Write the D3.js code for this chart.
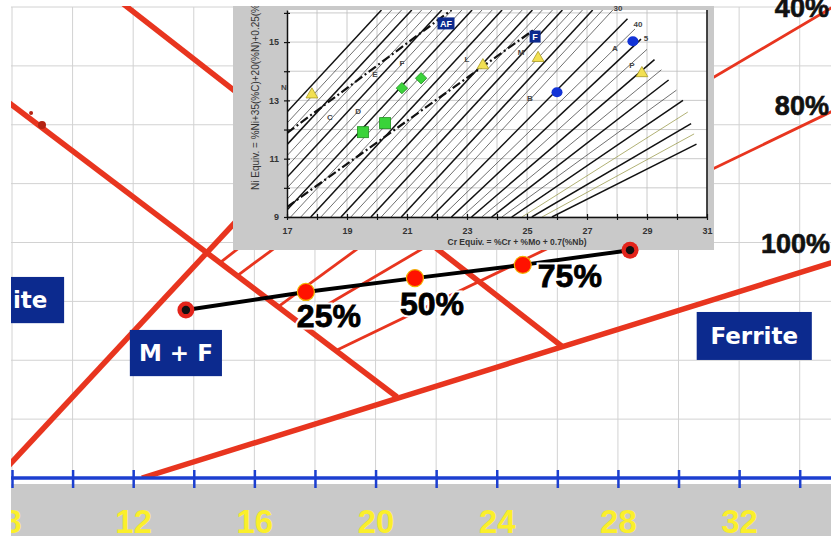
<!DOCTYPE html>
<html>
<head>
<meta charset="utf-8">
<script src="https://cdn.jsdelivr.net/npm/d3@7"></script>
<style>
  body { margin: 0; background: #fff; }
  svg { display: block; }
</style>
</head>
<body>
<svg id="chart" width="831" height="536"></svg>
<script>
// ---------- main diagram values (Cr equivalent / Ni equivalent) ----------
const crTicks = [8, 10, 12, 14, 16, 18, 20, 22, 24, 26, 28, 30, 32, 34];
const crLabels = [8, 12, 16, 20, 24, 28, 32];
const niGrid = [0, 2, 4, 6, 8, 10, 12, 14, 16];

// heavy boundary lines
const martensiteLeft = [[7.9, 12.75], [20.71, 2.75]];
const martensiteRight = [[11.43, 16.3], [26.18, 4.45]];
const austMartLine = [[7.9, 0.43], [22.25, 16.3]];
const ferriteLine = [[12.29, 0], [35.1, 7.33]];

// ferrite % lines
const ferritePct = ["5%", "10%", "20%", "40%", "80%"];
const ferriteFrom = [[14.86, 7.31], [15.43, 6.87], [16.78, 5.81], [17.44, 5.30], [18.73, 4.35]];
const ferriteTo = [[26.09, 16.3], [27.87, 16.3], [30.7, 16.3], [35.1, 16.0], [35.1, 12.47]];

// small dark marks on the left martensite line
const scratchMarks = [[8.99, 11.99], [8.63, 12.4]];

// dilution path
const weldCr = [13.74, 17.70, 21.30, 24.86, 28.40];
const weldNi = [5.71, 6.32, 6.79, 7.24, 7.74];
const weldPct = ["", "25%", "50%", "75%", ""];

// percentage labels on the right and region names
const pctLabels = ["40%", "80%", "100%"];
const pctLabelCr = [33.18, 33.18, 32.72];
const pctLabelNi = [15.66, 12.33, 7.64];
const regionNames = ["ite", "M + F", "Ferrite"];
const regionCr = [[7.9, 9.72], [11.89, 14.93], [30.6, 34.4]];
const regionNi = [[6.83, 5.26], [5.03, 3.46], [5.64, 4.01]];

// ---------- inset (WRC diagram) values ----------
const insetCrTicks = [17, 18, 19, 20, 21, 22, 23, 24, 25, 26, 27, 28, 29, 30, 31];
const insetCrLabels = [17, 19, 21, 23, 25, 27, 29, 31];
const insetNiTicks = [9, 10, 11, 12, 13, 14, 15, 16];
const insetNiLabels = [9, 11, 13, 15];

// iso-ferrite lines: [cr1, ni1, cr2, ni2]
const isoLines = [
  [17, 12.60, 20.15, 16.1], [17, 12.22, 20.49, 16.1], [17, 11.85, 20.82, 16.1],
  [17, 11.48, 21.16, 16.1], [17, 11.10, 21.49, 16.1], [17, 10.73, 21.83, 16.1],
  [17, 10.36, 22.16, 16.1], [17, 9.99, 22.50, 16.1], [17, 9.61, 22.83, 16.1],
  [17, 9.24, 23.17, 16.1], [17.12, 9, 23.50, 16.1], [17.46, 9, 23.84, 16.1],
  [17.79, 9, 24.17, 16.1], [18.13, 9, 24.51, 16.1], [18.46, 9, 24.84, 16.1],
  [18.80, 9, 25.18, 16.1], [19.13, 9, 25.51, 16.1], [19.47, 9, 25.85, 16.1],
  [19.80, 9, 26.18, 16.1], [20.14, 9, 26.52, 16.1], [20.47, 9, 26.85, 16.1],
  [20.81, 9, 27.19, 16.1], [21.14, 9, 27.52, 16.1], [21.48, 9, 27.86, 16.1],
  [21.81, 9, 28.35, 15.8], [22.15, 9, 28.60, 15.45], [22.48, 9, 28.80, 15.1],
  [22.82, 9, 29.00, 14.75], [23.15, 9, 29.25, 14.4], [23.49, 9, 29.48, 14.05],
  [23.82, 9, 29.72, 13.7], [24.16, 9, 29.98, 13.35], [24.49, 9, 30.20, 13.0],
  [24.83, 9, 30.36, 12.6], [25.16, 9, 30.47, 12.2], [25.50, 9, 30.57, 11.85],
  [25.83, 9, 30.65, 11.5]
];
const isoHeavy = [0, 3, 6, 9, 12, 15, 18, 21, 24, 26, 28, 30, 32, 34, 36];
const isoOlive = [33, 35];

const boundaryA = [[17, 11.88], [22.48, 16.1]];
const boundaryB = [[17, 9.34], [25.2, 15.4]];

const trianglePts = [[17.83, 13.2], [23.53, 14.2], [25.37, 14.45], [28.83, 13.93]];
const squarePts = [[19.53, 11.91], [20.27, 12.22]];
const diamondPts = [[20.83, 13.42], [21.47, 13.76]];
const circlePts = [[28.53, 15.03], [26.0, 13.28]];

const letterText = ["N", "C", "D", "E", "F", "L", "M", "A", "5", "B", "P", "40", "30"];
const letterCr = [16.9, 18.43, 19.37, 19.93, 20.83, 23.0, 24.8, 27.93, 28.97, 25.1, 28.5, 28.7, 28.03];
const letterNi = [13.45, 12.42, 12.63, 13.9, 14.27, 14.4, 14.65, 14.79, 15.13, 13.08, 14.2, 15.6, 16.15];

const tagText = ["AF", "F"];
const tagCr = [22.3, 25.27];
const tagNi = [15.64, 15.19];

// ---------- layout ----------
const svg = d3.select("#chart");
const red = "#e8351f";
const navy = "#0c2a8e";

const x = d3.scaleLinear().domain([8, 35]).range([12, 830]);
const y = d3.scaleLinear().domain([0, 16]).range([478, 7]);

const defs = svg.append("defs");
defs.append("clipPath").attr("id", "plotClip")
  .append("rect").attr("x", 11).attr("y", 6).attr("width", 820).attr("height", 472);
defs.append("clipPath").attr("id", "leftClip")
  .append("rect").attr("x", 11).attr("y", 0).attr("width", 820).attr("height", 536);

// grid
const grid = svg.append("g").attr("clip-path", "url(#plotClip)");
grid.selectAll(".vg").data(crTicks).join("line")
  .attr("x1", d => x(d)).attr("x2", d => x(d))
  .attr("y1", y(16)).attr("y2", y(0))
  .attr("stroke", "#d2d2d2").attr("stroke-width", 1);
grid.selectAll(".hg").data(niGrid).join("line")
  .attr("x1", 11).attr("x2", 831)
  .attr("y1", d => y(d)).attr("y2", d => y(d))
  .attr("stroke", "#d2d2d2").attr("stroke-width", 1);

// red lines
const seg = d3.line().x(d => x(d[0])).y(d => y(d[1]));
const redG = svg.append("g").attr("clip-path", "url(#plotClip)")
  .attr("fill", "none").attr("stroke", red).attr("stroke-linecap", "butt");

redG.selectAll(".fp").data(ferritePct).join("path")
  .attr("d", (d, i) => seg([ferriteFrom[i], ferriteTo[i]]))
  .attr("stroke-width", 2.8);

[martensiteLeft, martensiteRight, austMartLine, ferriteLine].forEach(pts => {
  redG.append("path").attr("d", seg(pts)).attr("stroke-width", 5.5);
});

svg.append("g").selectAll("circle").data(scratchMarks).join("circle")
  .attr("cx", d => x(d[0])).attr("cy", d => y(d[1]))
  .attr("r", (d, i) => i === 0 ? 4 : 2)
  .attr("fill", "#b42312");

// percentage labels on the right
svg.append("g").selectAll("text").data(pctLabels).join("text")
  .attr("x", (d, i) => x(pctLabelCr[i])).attr("y", (d, i) => y(pctLabelNi[i]))
  .attr("font-family", "Liberation Sans, Arial, sans-serif")
  .attr("font-weight", "bold").attr("font-size", 27)
  .attr("fill", "#111").attr("stroke", "#111").attr("stroke-width", 0.6)
  .text(d => d);

// region boxes
const regions = svg.append("g").attr("clip-path", "url(#leftClip)");
regionNames.forEach((name, i) => {
  const x0 = x(regionCr[i][0]), x1 = x(regionCr[i][1]);
  const y0 = y(regionNi[i][0]), y1 = y(regionNi[i][1]);
  regions.append("rect").attr("x", x0).attr("y", y0)
    .attr("width", x1 - x0).attr("height", y1 - y0).attr("fill", navy);
  regions.append("text")
    .attr("x", i === 0 ? x0 + 4 : (x0 + x1) / 2).attr("y", (y0 + y1) / 2 + 8)
    .attr("text-anchor", i === 0 ? "start" : "middle")
    .attr("font-family", "DejaVu Sans, Verdana, sans-serif")
    .attr("font-weight", "bold").attr("font-size", 23)
    .attr("fill", "#fff")
    .text(name);
});

// ---------- inset ----------
const ix = d3.scaleLinear().domain([17, 31]).range([287, 707]);
const iy = d3.scaleLinear().domain([9, 16.1]).range([217, 10]);

defs.append("clipPath").attr("id", "insetClip")
  .append("rect").attr("x", ix(17)).attr("y", iy(16.1))
  .attr("width", ix(31) - ix(17)).attr("height", iy(9) - iy(16.1));
defs.append("clipPath").attr("id", "panelClip")
  .append("rect").attr("x", 233).attr("y", 6).attr("width", 481).attr("height", 244);

const inset = svg.append("g");
inset.append("rect").attr("x", 233).attr("y", 6).attr("width", 481).attr("height", 244)
  .attr("fill", "#c9c9c9");
inset.append("rect").attr("x", ix(17)).attr("y", iy(16.1))
  .attr("width", ix(31) - ix(17)).attr("height", iy(9) - iy(16.1))
  .attr("fill", "#fff");

const inner = inset.append("g").attr("clip-path", "url(#insetClip)");
inner.selectAll(".ivg").data(insetCrTicks).join("line")
  .attr("x1", d => ix(d)).attr("x2", d => ix(d))
  .attr("y1", iy(16.1)).attr("y2", iy(9))
  .attr("stroke", "#bcbcbc").attr("stroke-width", 0.8);
inner.selectAll(".ihg").data(insetNiTicks).join("line")
  .attr("x1", ix(17)).attr("x2", ix(31))
  .attr("y1", d => iy(d)).attr("y2", d => iy(d))
  .attr("stroke", "#bcbcbc").attr("stroke-width", 0.8);

inner.selectAll(".iso").data(isoLines).join("line")
  .attr("x1", d => ix(d[0])).attr("y1", d => iy(d[1]))
  .attr("x2", d => ix(d[2])).attr("y2", d => iy(d[3]))
  .attr("stroke", (d, i) => isoOlive.includes(i) ? "#8f8f3a" : (isoHeavy.includes(i) ? "#111" : "#333"))
  .attr("stroke-width", (d, i) => isoHeavy.includes(i) ? 1.5 : 0.7);

const iseg = d3.line().x(d => ix(d[0])).y(d => iy(d[1]));
[boundaryA, boundaryB].forEach(pts => {
  inner.append("path").attr("d", iseg(pts))
    .attr("fill", "none").attr("stroke", "#111").attr("stroke-width", 2.2)
    .attr("stroke-dasharray", "9,3,2,3");
});

// inset axes
const iAxisLeft = inset.append("g").attr("transform", `translate(${ix(17)},0)`)
  .call(d3.axisLeft(iy).tickValues(insetNiTicks).tickSize(3).tickSizeOuter(0)
    .tickFormat(d => insetNiLabels.includes(d) ? d : ""));
const iAxisBottom = inset.append("g").attr("transform", `translate(0,${iy(9)})`)
  .call(d3.axisBottom(ix).tickValues(insetCrTicks).tickSize(3).tickSizeOuter(0)
    .tickFormat(d => insetCrLabels.includes(d) ? d : ""));
[iAxisLeft, iAxisBottom].forEach(g => {
  g.select(".domain").attr("stroke", "#111").attr("stroke-width", 1.5);
  g.selectAll(".tick line").attr("stroke", "#111").attr("stroke-width", 1.2);
  g.selectAll("text").attr("font-family", "Liberation Sans, Arial, sans-serif")
    .attr("font-weight", "bold").attr("font-size", 9).attr("fill", "#333");
});
iAxisLeft.selectAll(".tick line").attr("x1", 3);
iAxisLeft.selectAll("text").attr("x", -8);
iAxisBottom.selectAll(".tick line").attr("y1", -3);
iAxisBottom.selectAll("text").attr("y", 11);
inset.append("line").attr("x1", ix(31)).attr("x2", ix(31))
  .attr("y1", iy(16.1)).attr("y2", iy(9))
  .attr("stroke", "#111").attr("stroke-width", 1.5);

inset.append("text")
  .attr("x", (ix(17) + ix(31)) / 2 + 20).attr("y", 245)
  .attr("text-anchor", "middle")
  .attr("font-family", "Liberation Sans, Arial, sans-serif")
  .attr("font-weight", "bold").attr("font-size", 8.5).attr("fill", "#333")
  .text("Cr Equiv. = %Cr + %Mo + 0.7(%Nb)");
inset.append("g").attr("clip-path", "url(#panelClip)")
  .append("text")
  .attr("transform", "translate(259,190) rotate(-90)")
  .attr("font-family", "Liberation Sans, Arial, sans-serif")
  .attr("font-size", 10).attr("fill", "#333")
  .text("Ni Equiv. = %Ni+35(%C)+20(%N)+0.25(%Cu)");

// inset symbols
const sym = inset.append("g");
sym.selectAll(".tri").data(trianglePts).join("path")
  .attr("transform", d => `translate(${ix(d[0])},${iy(d[1])})`)
  .attr("d", d3.symbol(d3.symbolTriangle, 60))
  .attr("fill", "#f2e052").attr("stroke", "#a99a25").attr("stroke-width", 0.8);
sym.selectAll(".sq").data(squarePts).join("rect")
  .attr("x", d => ix(d[0]) - 5.5).attr("y", d => iy(d[1]) - 5.5)
  .attr("width", 11).attr("height", 11)
  .attr("fill", "#3ad33a").attr("stroke", "#1d8f1d").attr("stroke-width", 0.8);
sym.selectAll(".dia").data(diamondPts).join("path")
  .attr("transform", d => `translate(${ix(d[0])},${iy(d[1])}) rotate(45)`)
  .attr("d", "M-4,-4H4V4H-4Z")
  .attr("fill", "#3ad33a").attr("stroke", "#1d8f1d").attr("stroke-width", 0.8);
sym.selectAll(".cir").data(circlePts).join("ellipse")
  .attr("cx", d => ix(d[0])).attr("cy", d => iy(d[1]))
  .attr("rx", 5.5).attr("ry", 5)
  .attr("fill", "#1233d6");

sym.selectAll(".let").data(letterText).join("text")
  .attr("x", (d, i) => ix(letterCr[i])).attr("y", (d, i) => iy(letterNi[i]))
  .attr("text-anchor", "middle").attr("dy", "0.35em")
  .attr("font-family", "Liberation Sans, Arial, sans-serif")
  .attr("font-weight", "bold").attr("font-size", 8).attr("fill", "#444")
  .text(d => d);

tagText.forEach((t, i) => {
  const w = t.length > 1 ? 17 : 11;
  sym.append("rect").attr("x", ix(tagCr[i]) - w / 2).attr("y", iy(tagNi[i]) - 6)
    .attr("width", w).attr("height", 12).attr("fill", navy);
  sym.append("text").attr("x", ix(tagCr[i])).attr("y", iy(tagNi[i]) + 3.5)
    .attr("text-anchor", "middle")
    .attr("font-family", "Liberation Sans, Arial, sans-serif")
    .attr("font-weight", "bold").attr("font-size", 9).attr("fill", "#fff")
    .text(t);
});

// ---------- dilution path ----------
const weld = weldCr.map((c, i) => ({ cr: c, ni: weldNi[i], pct: weldPct[i] }));
const labelDx = [0, -9, -15, 15, 0];
const labelDy = [0, 35, 37, 22, 0];

svg.append("path")
  .attr("d", d3.line().x(d => x(d.cr)).y(d => y(d.ni))(weld))
  .attr("fill", "none").attr("stroke", "#000").attr("stroke-width", 4);

const ends = weld.filter(d => d.pct === "");
const mids = weld.filter(d => d.pct !== "");
svg.selectAll(".endc").data(ends).join("circle")
  .attr("cx", d => x(d.cr)).attr("cy", d => y(d.ni)).attr("r", 8.5)
  .attr("fill", "#e3241b");
svg.selectAll(".endd").data(ends).join("circle")
  .attr("cx", d => x(d.cr)).attr("cy", d => y(d.ni)).attr("r", 4.2)
  .attr("fill", "#111");
svg.selectAll(".midc").data(mids).join("circle")
  .attr("cx", d => x(d.cr)).attr("cy", d => y(d.ni)).attr("r", 8.5)
  .attr("fill", "#ff1200").attr("stroke", "#f2b400").attr("stroke-width", 1.2);

// white halo then heavy black text
const pctFont = g => g
  .attr("x", (d, i) => x(d.cr) + labelDx[i]).attr("y", (d, i) => y(d.ni) + labelDy[i])
  .attr("font-family", "Liberation Sans, Arial, sans-serif")
  .attr("font-weight", "bold").attr("font-size", 32)
  .text(d => d.pct);
svg.selectAll(".pcth").data(weld).join("text").call(pctFont)
  .attr("fill", "#fff").attr("stroke", "#fff").attr("stroke-width", 5);
svg.selectAll(".pct").data(weld).join("text").call(pctFont)
  .attr("fill", "#000").attr("stroke", "#000").attr("stroke-width", 0.8);

// ---------- bottom axis ----------
const axisG = svg.append("g").attr("clip-path", "url(#leftClip)");
axisG.append("rect").attr("x", 11).attr("y", 484).attr("width", 820).attr("height", 52)
  .attr("fill", "#c9c9c9");
const xAxis = axisG.append("g").attr("transform", `translate(0,${y(0)})`)
  .call(d3.axisBottom(x).tickValues(crTicks).tickSize(10).tickSizeOuter(0)
    .tickFormat(d => crLabels.includes(d) ? d : ""));
xAxis.select(".domain").remove();
axisG.append("line").attr("x1", 11).attr("x2", 831).attr("y1", y(0)).attr("y2", y(0))
  .attr("stroke", "#1c3fd0").attr("stroke-width", 3.5);
xAxis.selectAll(".tick line").attr("y1", -8).attr("y2", 10)
  .attr("stroke", "#1c3fd0").attr("stroke-width", 2.5);
xAxis.selectAll("text")
  .attr("y", 55).attr("dy", 0)
  .attr("font-family", "Liberation Sans Narrow, Arial Narrow, sans-serif")
  .attr("font-weight", "bold").attr("font-size", 33)
  .attr("fill", "#fbef2a");
</script>
</body>
</html>
